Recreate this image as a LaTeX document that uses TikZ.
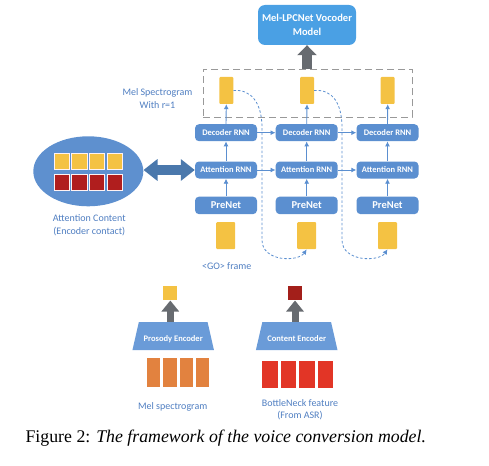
\documentclass[tikz,border=0pt]{standalone}
\usepackage{fontspec}
\setmainfont{Carlito}
\newfontfamily\capfont{Liberation Serif}
\usetikzlibrary{shapes.geometric,arrows.meta}
\definecolor{nodeblue}{HTML}{5B8FD0}
\definecolor{vocblue}{HTML}{4AA0E4}
\definecolor{ellblue}{HTML}{5E90CF}
\definecolor{trapblue}{HTML}{6A9BD8}
\definecolor{lineblue}{HTML}{5B8FD0}
\definecolor{textblue}{HTML}{4F7EC1}
\definecolor{dblarrow}{HTML}{4A78AC}
\definecolor{arrgray}{HTML}{676B70}
\definecolor{yel}{HTML}{F4C243}
\definecolor{dred}{HTML}{B01E1E}
\definecolor{orng}{HTML}{E2823F}
\definecolor{brred}{HTML}{E23526}
\definecolor{sqred}{HTML}{A31F1A}
\tikzset{
  rnn/.style={rectangle, rounded corners=4pt, fill=nodeblue, text=white,
    font=\bfseries\fontsize{8.5}{9}\selectfont, minimum width=62pt, minimum height=17pt, inner sep=0pt},
  prenet/.style={rnn, font=\bfseries\fontsize{10.5}{11}\selectfont, minimum height=17.5pt},
  ytall/.style={rectangle, fill=yel, rounded corners=1pt, inner sep=0pt, minimum width=14pt, minimum height=27pt},
  ywide/.style={ytall, minimum width=19pt},
  cell/.style={rectangle, draw=white!80!pink, line width=0.4pt, inner sep=0pt, minimum width=15.5pt, minimum height=16pt},
  thinarr/.style={draw=lineblue, line width=0.9pt, -{Latex[length=5pt,width=5pt]}},
  dcurve/.style={draw=lineblue, line width=0.8pt, dash pattern=on 2.5pt off 2pt, -{Latex[length=5pt,width=5pt]}},
  bigarr/.style={draw=arrgray, line width=10pt, -{Triangle[width=19pt,length=10pt]}},
  smallarr/.style={draw=arrgray, line width=7pt, -{Triangle[width=17pt,length=11pt]}},
  lbl/.style={text=textblue, font=\fontsize{10}{13}\selectfont, align=center, inner sep=0pt},
  trap/.style={trapezium, trapezium angle=68.6, trapezium stretches=true, fill=trapblue, text=white,
    font=\bfseries\fontsize{8.5}{9}\selectfont, minimum width=82pt, minimum height=28pt, inner sep=0pt,
    text height=12pt, text depth=2pt},
  bar/.style={rectangle, inner sep=0pt, minimum width=13.5pt, minimum height=28.4pt}
}
\begin{document}
\begin{tikzpicture}[x=1pt,y=-1pt]
\useasboundingbox (0,0) rectangle (489,465);
% vocoder
\node[rectangle, rounded corners=7pt, fill=vocblue, text=white, align=center,
  font=\bfseries\fontsize{10.5}{14.4}\selectfont, minimum width=98pt, minimum height=40pt, inner sep=0pt]
  (voc) at (307,25) {Mel-LPCNet Vocoder\\Model};
% dashed box
\node[draw=gray!80, line width=1pt, dash pattern=on 7pt off 4pt, minimum width=209pt, minimum height=48pt, inner sep=0pt]
  (mbox) at (307.5,93.3) {};
\draw[bigarr] (mbox.north -| voc.south) -- (voc.south);
% top yellow frames
\node[ytall] (y1) at (226.3,90.5) {};
\node[ytall] (y2) at (307,90.5) {};
\node[ytall] (y3) at (387.7,90.5) {};
% rnn blocks
\node[rnn] (d1) at (226,132.7) {Decoder RNN};
\node[rnn] (d2) at (306.7,132.7) {Decoder RNN};
\node[rnn] (d3) at (387.5,132.7) {Decoder RNN};
\node[rnn] (a1) at (226,170) {Attention RNN};
\node[rnn] (a2) at (306.7,170) {Attention RNN};
\node[rnn] (a3) at (387.5,170) {Attention RNN};
\node[prenet] (p1) at (226,205.4) {PreNet};
\node[prenet] (p2) at (306.7,205.4) {PreNet};
\node[prenet] (p3) at (387.5,205.4) {PreNet};
% bottom yellow frames
\node[ywide] (b1) at (225.7,235.7) {};
\node[ywide] (b2) at (306.7,235.7) {};
\node[ywide] (b3) at (387.5,235.7) {};
\node[lbl] (go) at (226.7,265.7) {<GO> frame};
% arrows
\foreach \i in {1,2,3}{
  \draw[thinarr] (p\i.north) -- (a\i.south);
  \draw[thinarr] (a\i.north) -- (d\i.south);
  \draw[thinarr] (d\i.north) -- (y\i.south);
}
\draw[thinarr] (d1.east) -- (d2.west);
\draw[thinarr] (d2.east) -- (d3.west);
\draw[thinarr] (a1.east) -- (a2.west);
\draw[thinarr] (a2.east) -- (a3.west);
% dashed feedback curves
\draw[dcurve] (y1.east) .. controls (252,89) and (262,104) .. (262,128) -- (262,240)
  .. controls (262,262) and (298,262) .. (b2.south);
\draw[dcurve] (y2.east) .. controls (333,89) and (342,104) .. (342,128) -- (342,240)
  .. controls (342,262) and (379,262) .. (b3.south);
\node[lbl] (mellbl) at (157.5,98.8) {Mel Spectrogram\\With r=1};
% attention content ellipse
\node[ellipse, fill=ellblue, minimum width=110pt, minimum height=70pt, inner sep=0pt] (ell) at (88.3,171.3) {};
\foreach \k/\x in {1/61.5,2/79.2,3/96.9,4/114.6}{
  \node[cell, fill=yel] (ey\k) at (\x,161.3) {};
  \node[cell, fill=dred] (er\k) at (\x,182) {};
}
\draw[draw=dblarrow, line width=10pt, {Triangle[width=21pt,length=14pt]}-{Triangle[width=21pt,length=14pt]}]
  (ell.east |- a1.west) -- (a1.west);
\node[lbl] (attlbl) at (89.3,225) {Attention Content\\(Encoder contact)};
% encoders
\node[trap] (pe) at (173.2,336.2) {Prosody Encoder};
\node[trap] (ce) at (296.7,336.2) {Content Encoder};
\node[rectangle, fill=yel, inner sep=0pt, minimum size=14pt] (psq) at (170.3,293.3) {};
\node[rectangle, fill=sqred, inner sep=0pt, minimum size=14pt] (csq) at (295,293.3) {};
\draw[smallarr] (psq.south |- pe.north) -- (psq.south);
\draw[smallarr] (csq.south |- ce.north) -- (csq.south);
\foreach \k/\x in {1/153.5,2/169.9,3/186.3,4/202.7}{
  \node[bar, fill=orng] (ob\k) at (\x,372.5) {};
}
\foreach \k/\x in {1/270,2/288.5,3/307,4/325.5}{
  \node[bar, fill=brred, minimum width=15.5pt, minimum height=27.6pt] (rb\k) at (\x,374.5) {};
}
\node[lbl] (mellbl2) at (172.7,407.3) {Mel spectrogram};
\node[lbl, font=\fontsize{10}{12.4}\selectfont] (bnlbl) at (300,409.5) {BottleNeck feature\\(From ASR)};
% caption
\node[inner sep=0pt, font=\capfont\fontsize{17.8}{20}\selectfont] (cap) at (225.8,438.3)
  {Figure 2: \textit{The framework of the voice conversion model.}};
\end{tikzpicture}
\end{document}
